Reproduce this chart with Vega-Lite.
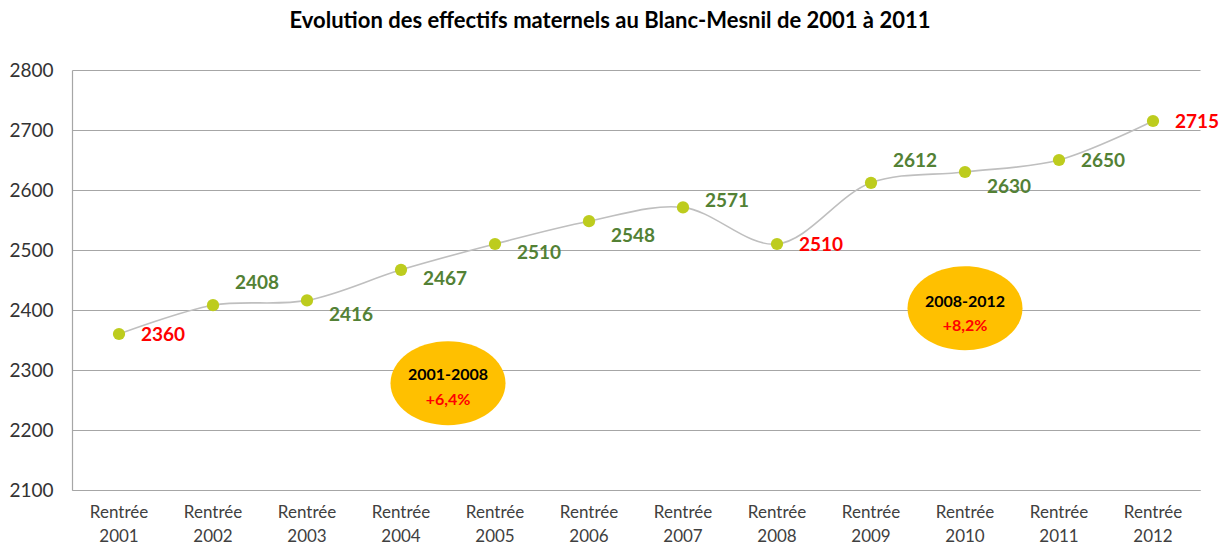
{
  "$schema": "https://vega.github.io/schema/vega-lite/v6.json",
  "width": 1128,
  "height": 420,
  "autosize": {"type": "none"},
  "padding": {"left": 72, "top": 70, "right": 20, "bottom": 54},
  "background": "white",
  "title": {
    "text": "Evolution des effectifs maternels au Blanc-Mesnil de 2001 à 2011",
    "font": "Lato",
    "fontSize": 22,
    "fontWeight": "bold",
    "color": "#000000",
    "anchor": "middle",
    "dx": -26,
    "offset": 28
  },
  "config": {
    "view": {"stroke": null},
    "font": "Lato"
  },
  "datasets": {
    "effectifs": [
      {"annee": "2001", "effectif": 2360},
      {"annee": "2002", "effectif": 2408},
      {"annee": "2003", "effectif": 2416},
      {"annee": "2004", "effectif": 2467},
      {"annee": "2005", "effectif": 2510},
      {"annee": "2006", "effectif": 2548},
      {"annee": "2007", "effectif": 2571},
      {"annee": "2008", "effectif": 2510},
      {"annee": "2009", "effectif": 2612},
      {"annee": "2010", "effectif": 2630},
      {"annee": "2011", "effectif": 2650},
      {"annee": "2012", "effectif": 2715}
    ],
    "periodes": [
      {"annee": "2004", "centre": 2278, "periode": "2001-2008", "evolution": "+6,4%"},
      {"annee": "2010", "centre": 2403, "periode": "2008-2012", "evolution": "+8,2%"}
    ]
  },
  "encoding": {
    "x": {
      "field": "annee",
      "type": "ordinal",
      "scale": {"type": "band", "paddingInner": 0, "paddingOuter": 0},
      "axis": {
        "title": null,
        "labelAngle": 0,
        "labelExpr": "['Rentrée', datum.label]",
        "labelFont": "Lato",
        "labelFontSize": 17,
        "labelColor": "#404040",
        "labelBaseline": "top",
        "labelLineHeight": 24,
        "labelPadding": 14,
        "ticks": false,
        "domainColor": "#a6a6a6",
        "domainWidth": 1.2,
        "grid": false
      }
    },
    "y": {
      "field": "effectif",
      "type": "quantitative",
      "scale": {"domain": [2100, 2800], "zero": false, "nice": false},
      "axis": {
        "title": null,
        "format": "d",
        "values": [2100, 2200, 2300, 2400, 2500, 2600, 2700, 2800],
        "labelFont": "Lato",
        "labelFontSize": 19,
        "labelColor": "#333333",
        "labelPadding": 19,
        "ticks": false,
        "domainColor": "#a6a6a6",
        "domainWidth": 1.2,
        "gridColor": "#a6a6a6",
        "gridWidth": 1.2
      }
    }
  },
  "layer": [
    {
      "data": {"name": "effectifs"},
      "mark": {"type": "line", "interpolate": "catmull-rom", "color": "#bfbfbf", "strokeWidth": 1.6}
    },
    {
      "data": {"name": "effectifs"},
      "mark": {"type": "point", "filled": true, "opacity": 1, "color": "#bdcc1e", "size": 150}
    },
    {
      "data": {"name": "periodes"},
      "transform": [{"filter": "datum.annee == '2004'"}],
      "encoding": {
        "x": {"field": "annee", "type": "ordinal", "bandPosition": 1},
        "y": {"field": "centre", "type": "quantitative"}
      },
      "layer": [
        {
          "mark": {
            "type": "point",
            "filled": true,
            "opacity": 1,
            "color": "#ffc000",
            "shape": "M-1,0A1,0.73,0,1,1,1,0A1,0.73,0,1,1,-1,0Z",
            "size": 13225
          }
        },
        {
          "mark": {"type": "text", "font": "Lato", "fontSize": 16, "fontWeight": "bold", "color": "#000000", "dy": -8},
          "encoding": {"text": {"field": "periode"}}
        },
        {
          "mark": {"type": "text", "font": "Lato", "fontSize": 16, "fontWeight": "bold", "color": "#ff0000", "dy": 17},
          "encoding": {"text": {"field": "evolution"}}
        }
      ]
    },
    {
      "data": {"name": "periodes"},
      "transform": [{"filter": "datum.annee == '2010'"}],
      "encoding": {
        "y": {"field": "centre", "type": "quantitative"}
      },
      "layer": [
        {
          "mark": {
            "type": "point",
            "filled": true,
            "opacity": 1,
            "color": "#ffc000",
            "shape": "M-1,0A1,0.73,0,1,1,1,0A1,0.73,0,1,1,-1,0Z",
            "size": 13225
          }
        },
        {
          "mark": {"type": "text", "font": "Lato", "fontSize": 16, "fontWeight": "bold", "color": "#000000", "dy": -6},
          "encoding": {"text": {"field": "periode"}}
        },
        {
          "mark": {"type": "text", "font": "Lato", "fontSize": 16, "fontWeight": "bold", "color": "#ff0000", "dy": 18},
          "encoding": {"text": {"field": "evolution"}}
        }
      ]
    },
    {
      "data": {"name": "effectifs"},
      "encoding": {
        "text": {"field": "effectif", "type": "quantitative"},
        "color": {
          "condition": {"test": "indexof(['2001', '2008', '2012'], datum.annee) >= 0", "value": "#ff0000"},
          "value": "#538135"
        }
      },
      "layer": [
        {
          "transform": [{"filter": {"field": "annee", "oneOf": ["2001", "2008", "2011", "2012"]}}],
          "mark": {"type": "text", "font": "Lato", "fontSize": 19, "fontWeight": "bold", "align": "left", "baseline": "middle", "dx": 22, "dy": 1}
        },
        {
          "transform": [{"filter": {"field": "annee", "oneOf": ["2004", "2005"]}}],
          "mark": {"type": "text", "font": "Lato", "fontSize": 19, "fontWeight": "bold", "align": "left", "baseline": "middle", "dx": 22, "dy": 9}
        },
        {
          "transform": [{"filter": {"field": "annee", "oneOf": ["2003", "2006", "2010"]}}],
          "mark": {"type": "text", "font": "Lato", "fontSize": 19, "fontWeight": "bold", "align": "left", "baseline": "middle", "dx": 22, "dy": 15}
        },
        {
          "transform": [{"filter": {"field": "annee", "oneOf": ["2007"]}}],
          "mark": {"type": "text", "font": "Lato", "fontSize": 19, "fontWeight": "bold", "align": "left", "baseline": "middle", "dx": 22, "dy": -6}
        },
        {
          "transform": [{"filter": {"field": "annee", "oneOf": ["2002", "2009"]}}],
          "mark": {"type": "text", "font": "Lato", "fontSize": 19, "fontWeight": "bold", "align": "left", "baseline": "middle", "dx": 22, "dy": -22}
        }
      ]
    }
  ]
}
